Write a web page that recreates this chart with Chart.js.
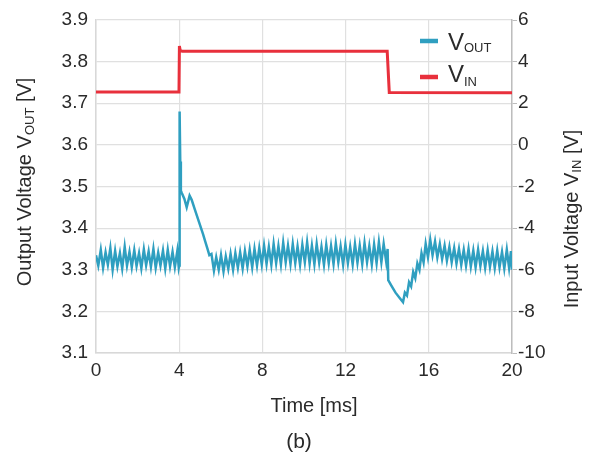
<!DOCTYPE html>
<html>
<head>
<meta charset="utf-8">
<script src="https://cdn.jsdelivr.net/npm/chart.js@4.4.1/dist/chart.umd.min.js"></script>
<style>
  html, body { margin: 0; padding: 0; background: #fff; }
  #wrap { width: 590px; height: 457px; }
</style>
</head>
<body>
<div id="wrap"><canvas id="chartVout" width="590" height="457"></canvas></div>
<script>
// Data
const tOut = [
  0, 0.11, 0.23, 0.34, 0.46, 0.57, 0.69, 0.80, 0.92, 1.03, 1.15, 1.26, 1.38, 1.49, 1.61, 1.72, 1.84, 1.95,
  2.07, 2.18, 2.30, 2.41, 2.53, 2.64, 2.76, 2.87, 2.99, 3.10, 3.22, 3.33, 3.45, 3.56, 3.68, 3.79, 3.91, 3.98,
  4.00, 4.02, 4.05, 4.08, 4.12, 4.25, 4.36, 4.50, 4.60, 4.75, 4.85, 4.95, 5.05, 5.15, 5.25, 5.35, 5.45,
  5.55, 5.67, 5.78, 5.90, 6.01, 6.13, 6.24, 6.36, 6.47, 6.59, 6.70, 6.82, 6.93, 7.05, 7.16, 7.28, 7.39, 7.51,
  7.62, 7.74, 7.85, 7.97, 8.08, 8.20, 8.31, 8.43, 8.54, 8.66, 8.77, 8.89, 9.00, 9.12, 9.23, 9.35, 9.46, 9.58,
  9.69, 9.81, 9.92, 10.04, 10.15, 10.27, 10.38, 10.50, 10.61, 10.73, 10.84, 10.96, 11.07, 11.19, 11.30, 11.42,
  11.53, 11.65, 11.76, 11.88, 11.99, 12.11, 12.22, 12.34, 12.45, 12.57, 12.68, 12.80, 12.91, 13.03, 13.14,
  13.26, 13.37, 13.49, 13.60, 13.72, 13.83, 13.95, 14.02,
  14.05, 14.20, 14.40, 14.60, 14.76, 14.85, 14.95, 15.05, 15.15, 15.25, 15.35, 15.45, 15.55, 15.65, 15.75,
  15.85, 15.96,
  16.07, 16.18, 16.30, 16.41, 16.53, 16.64, 16.76, 16.87, 16.99, 17.10, 17.22, 17.33, 17.45, 17.56, 17.68,
  17.79, 17.91, 18.02, 18.14, 18.25, 18.37, 18.48, 18.60, 18.71, 18.83, 18.94, 19.06, 19.17, 19.29, 19.40,
  19.52, 19.63, 19.75, 19.86, 19.95, 20.00
];
const vOut = [
  3.335, 3.310, 3.348, 3.305, 3.342, 3.312, 3.352, 3.300, 3.345, 3.308, 3.340, 3.303, 3.355, 3.310, 3.343, 3.306, 3.347, 3.309,
  3.340, 3.304, 3.349, 3.311, 3.344, 3.307, 3.350, 3.305, 3.341, 3.310, 3.346, 3.303, 3.348, 3.308, 3.343, 3.306, 3.345, 3.305,
  3.310, 3.680, 3.560, 3.490, 3.485, 3.470, 3.450, 3.478, 3.468, 3.445, 3.430, 3.415, 3.400, 3.385, 3.368, 3.352, 3.335,
  3.338, 3.298, 3.330, 3.300, 3.335, 3.296, 3.332, 3.302, 3.338, 3.300, 3.340, 3.305, 3.342, 3.303, 3.345, 3.308, 3.348, 3.306,
  3.350, 3.310, 3.352, 3.312, 3.358, 3.314, 3.355, 3.312, 3.362, 3.316, 3.357, 3.313, 3.365, 3.318, 3.358, 3.314, 3.362, 3.316,
  3.356, 3.312, 3.360, 3.318, 3.366, 3.315, 3.358, 3.313, 3.362, 3.317, 3.355, 3.312, 3.360, 3.316, 3.357, 3.314,
  3.363, 3.318, 3.356, 3.312, 3.360, 3.316, 3.355, 3.313, 3.362, 3.317, 3.358, 3.314, 3.364, 3.318, 3.357,
  3.313, 3.361, 3.316, 3.366, 3.318, 3.362, 3.320, 3.350,
  3.275, 3.262, 3.245, 3.232, 3.222, 3.245, 3.238, 3.270, 3.260, 3.295, 3.280, 3.315, 3.300, 3.340, 3.318,
  3.362, 3.330,
  3.372, 3.335, 3.368, 3.330, 3.362, 3.326, 3.358, 3.322, 3.355, 3.318, 3.352, 3.315, 3.350, 3.312, 3.348,
  3.310, 3.350, 3.308, 3.346, 3.306, 3.348, 3.309, 3.345, 3.305, 3.347, 3.307, 3.344, 3.304, 3.346, 3.306,
  3.343, 3.303, 3.348, 3.305, 3.345, 3.300
];
const tIn = [0, 3.99, 4.01, 4.05, 4.15, 14.00, 14.10, 20];
const vIn = [2.54, 2.54, 4.75, 4.52, 4.50, 4.50, 2.52, 2.50];

const xTicks = [0, 4, 8, 12, 16, 20];
const leftTicks = [3.1, 3.2, 3.3, 3.4, 3.5, 3.6, 3.7, 3.8, 3.9];
const rightTicks = [-10, -8, -6, -4, -2, 0, 2, 4, 6];

const colOut = "#2f9fc0";
const colIn = "#e8303c";
const textCol = "#2a2a2a";
const gridCol = "#e0e0e0";
const FONT = "'Liberation Sans', Arial, sans-serif";

const pairs = (xs, ys) => xs.map((x, i) => ({ x: x, y: ys[i] }));

// draw a run of text pieces (with subscripts), centred on cx
function drawParts(ctx, parts, cx, baseY) {
  let total = 0;
  parts.forEach((p) => {
    ctx.font = p[1] + "px " + FONT;
    total += ctx.measureText(p[0]).width;
  });
  let x = cx - total / 2;
  parts.forEach((p) => {
    ctx.font = p[1] + "px " + FONT;
    ctx.fillText(p[0], x, baseY + (p[2] || 0));
    x += ctx.measureText(p[0]).width;
  });
}

const labelsPlugin = {
  id: "labels",
  afterDraw(chart) {
    const ctx = chart.ctx;
    ctx.save();
    ctx.fillStyle = textCol;
    ctx.textBaseline = "alphabetic";
    ctx.textAlign = "left";

    // left axis title
    ctx.save();
    ctx.translate(31, 182);
    ctx.rotate(-Math.PI / 2);
    drawParts(ctx, [["Output Voltage V", 20], ["OUT", 13, 3], [" [V]", 20]], 0, 0);
    ctx.restore();

    // right axis title
    ctx.save();
    ctx.translate(578, 219);
    ctx.rotate(-Math.PI / 2);
    drawParts(ctx, [["Input Voltage V", 20], ["IN", 13, 3], [" [V]", 20]], 0, 0);
    ctx.restore();

    // x title and caption
    drawParts(ctx, [["Time [ms]", 20]], 314, 412);
    drawParts(ctx, [["(b)", 21]], 299, 448);

    // legend
    ctx.lineWidth = 4.5;
    ctx.strokeStyle = colOut;
    ctx.beginPath(); ctx.moveTo(420, 41); ctx.lineTo(438, 41); ctx.stroke();
    ctx.strokeStyle = colIn;
    ctx.beginPath(); ctx.moveTo(420, 77); ctx.lineTo(438, 77); ctx.stroke();
    ctx.font = "24px " + FONT;
    ctx.fillText("V", 448, 50);
    ctx.fillText("V", 448, 82);
    ctx.font = "13px " + FONT;
    ctx.fillText("OUT", 464, 52);
    ctx.fillText("IN", 464, 86);
    ctx.restore();
  },
};

new Chart(document.getElementById("chartVout"), {
  type: "line",
  data: {
    datasets: [
      {
        label: "VOUT",
        data: pairs(tOut, vOut),
        yAxisID: "y",
        borderColor: colOut,
        borderWidth: 2.5,
        pointRadius: 0,
        tension: 0,
      },
      {
        label: "VIN",
        data: pairs(tIn, vIn),
        yAxisID: "y1",
        borderColor: colIn,
        borderWidth: 3,
        pointRadius: 0,
        tension: 0,
      },
    ],
  },
  options: {
    responsive: false,
    animation: false,
    layout: { padding: { top: 20, left: 0, right: 0, bottom: 0 } },
    plugins: { legend: { display: false }, tooltip: { enabled: false } },
    scales: {
      x: {
        type: "linear",
        min: 0,
        max: 20,
        afterBuildTicks: (s) => { s.ticks = xTicks.map((v) => ({ value: v })); },
        afterFit: (s) => { s.height = 104; },
        grid: { color: gridCol, lineWidth: 1.2, drawTicks: false },
        border: { color: "#d8d8d8", width: 1.5 },
        ticks: { color: textCol, font: { family: FONT, size: 19 }, padding: 6, maxRotation: 0 },
      },
      y: {
        position: "left",
        min: 3.1,
        max: 3.9,
        afterBuildTicks: (s) => { s.ticks = leftTicks.map((v) => ({ value: v })); },
        afterFit: (s) => { s.width = 96; },
        grid: { color: gridCol, lineWidth: 1.2, drawTicks: false },
        border: { color: "#d8d8d8", width: 1.5 },
        ticks: {
          color: textCol,
          font: { family: FONT, size: 19 },
          padding: 8,
          callback: (v) => v.toFixed(1),
        },
      },
      y1: {
        position: "right",
        min: -10,
        max: 6,
        afterBuildTicks: (s) => { s.ticks = rightTicks.map((v) => ({ value: v })); },
        afterFit: (s) => { s.width = 78; },
        grid: { drawOnChartArea: false, color: "#bdbdbd", tickLength: 5 },
        border: { color: "#bdbdbd", width: 1.5 },
        ticks: { color: textCol, font: { family: FONT, size: 19 }, padding: 1 },
      },
    },
  },
  plugins: [labelsPlugin],
});
</script>
</body>
</html>
